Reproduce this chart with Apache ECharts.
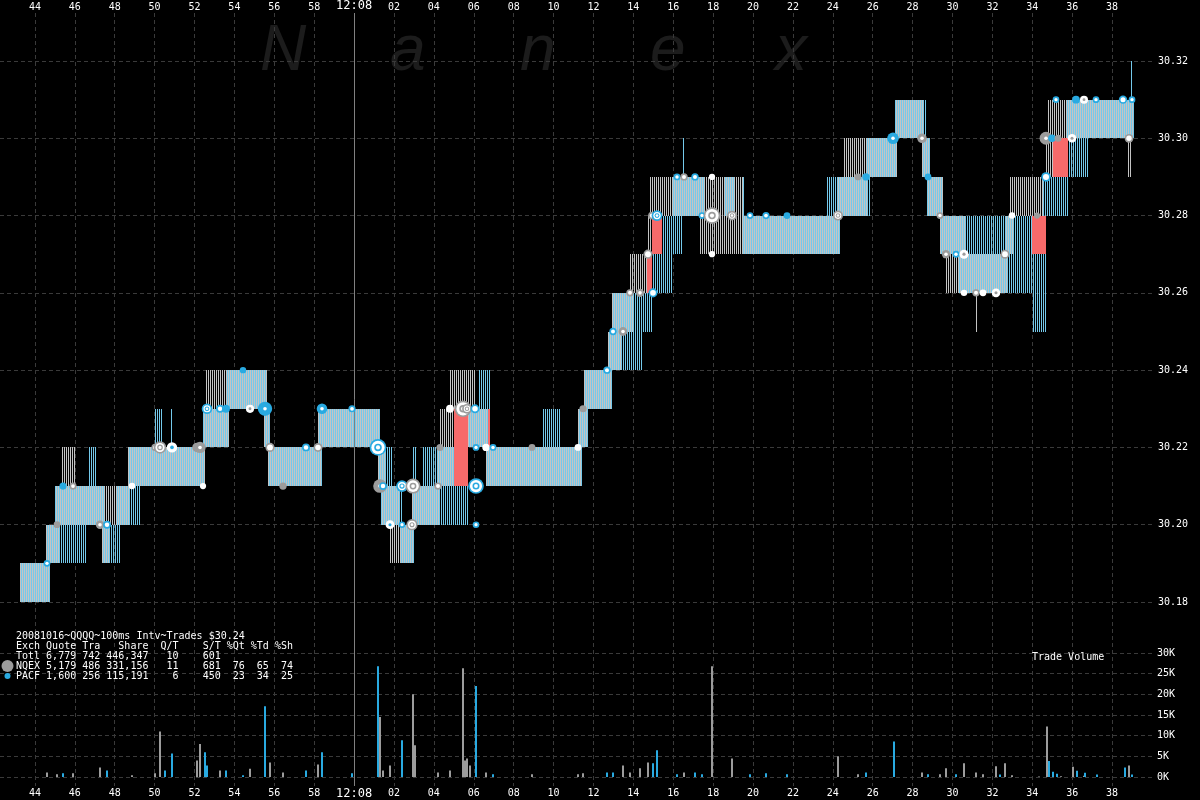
<!DOCTYPE html>
<html><head><meta charset="utf-8">
<script src="https://cdn.jsdelivr.net/npm/echarts@6/dist/echarts.min.js"></script>
<style>html,body{margin:0;background:#000}#c{width:1200px;height:800px}</style>
</head><body><div id="c"></div><script>
// ---- axes: time in seconds after 12:07:00 (axis works in 0.1 s units) ----
const timeMin = 42.4, timeMax = 99.8, timeDataMax = 100.1, labelStep = 2, minuteMark = 60;
const priceMin = 30.17, priceMax = 30.33, priceLabelMin = 30.18, priceLabelMax = 30.32;
const volMin = 0, volMax = 30000, volStep = 5000;

// ---- quotes per exchange: [t0, t1, low, high] ----
const quotesNQEX = [
 [43.40,44.90,30.18,30.19],[44.70,45.40,30.19,30.20],[45.15,47.60,30.20,30.21],[45.50,46.15,30.21,30.22],
 [47.60,48.90,30.20,30.21],[47.50,47.90,30.19,30.20],[48.80,52.65,30.21,30.22],[52.55,53.85,30.22,30.23],
 [52.65,55.75,30.23,30.24],[55.60,55.90,30.22,30.23],[55.80,58.50,30.21,30.22],[58.30,61.40,30.22,30.23],
 [61.30,61.65,30.21,30.22],[61.45,62.40,30.20,30.21],[61.90,63.10,30.19,30.20],[63.00,64.40,30.20,30.21],
 [64.25,65.10,30.21,30.22],[64.40,65.05,30.22,30.23],[64.90,66.15,30.23,30.24],[65.70,66.80,30.22,30.23],
 [66.70,71.50,30.21,30.22],[71.30,71.80,30.22,30.23],[71.60,73.00,30.23,30.24],[72.80,73.50,30.24,30.25],
 [73.00,74.05,30.25,30.26],[73.90,74.75,30.26,30.27],[74.80,75.00,30.27,30.28],[74.90,79.55,30.28,30.29],
 [77.40,84.40,30.27,30.28],[84.25,85.75,30.28,30.29],[84.60,87.25,30.29,30.30],[87.15,88.60,30.30,30.31],
 [88.50,88.90,30.29,30.30],[88.75,89.55,30.28,30.29],[89.40,90.70,30.27,30.28],[92.65,93.05,30.27,30.28],
 [89.70,92.80,30.26,30.27],[91.20,91.25,30.25,30.26],[92.90,94.55,30.28,30.29],[94.70,95.05,30.29,30.30],
 [94.80,99.10,30.30,30.31],[98.80,99.00,30.29,30.30]
];
const quotesPACF = [
 [43.40,44.90,30.18,30.19],[44.70,46.70,30.19,30.20],[45.15,47.60,30.20,30.21],[46.85,47.20,30.21,30.22],
 [48.25,49.40,30.20,30.21],[47.50,48.40,30.19,30.20],[48.80,52.65,30.21,30.22],[50.15,50.50,30.22,30.23],
 [50.95,51.00,30.22,30.23],[52.55,53.85,30.22,30.23],[53.75,55.75,30.23,30.24],[55.60,55.90,30.22,30.23],
 [55.80,58.50,30.21,30.22],[58.30,61.40,30.22,30.23],[61.30,62.00,30.21,30.22],[61.45,62.55,30.20,30.21],
 [62.40,63.10,30.19,30.20],[63.00,64.40,30.20,30.21],[63.00,63.25,30.21,30.22],[63.55,65.10,30.21,30.22],
 [64.40,65.80,30.20,30.21],[66.35,66.90,30.23,30.24],[65.70,66.80,30.22,30.23],[66.75,71.50,30.21,30.22],
 [69.55,70.40,30.22,30.23],[71.30,71.80,30.22,30.23],[71.60,73.00,30.23,30.24],[72.80,74.50,30.24,30.25],
 [73.00,75.00,30.25,30.26],[75.00,76.00,30.26,30.27],[75.50,76.50,30.27,30.28],[76.05,77.65,30.28,30.29],
 [78.65,79.15,30.28,30.29],[79.50,79.65,30.28,30.29],[76.50,76.55,30.29,30.30],[79.50,84.40,30.27,30.28],
 [83.75,85.90,30.28,30.29],[85.70,87.25,30.29,30.30],[87.15,88.70,30.30,30.31],[88.50,88.90,30.29,30.30],
 [88.75,89.55,30.28,30.29],[89.40,94.00,30.27,30.28],[90.30,94.70,30.26,30.27],[94.05,94.70,30.25,30.26],
 [94.55,95.80,30.28,30.29],[95.80,96.80,30.29,30.30],[95.70,99.10,30.30,30.31],[98.95,99.05,30.31,30.32]
];
// locked / crossed market intervals: [t0, t1, low, high]
const crossed = [
 [65.10,65.80,30.21,30.23],[66.80,66.90,30.22,30.23],[74.75,75.00,30.26,30.27],
 [75.00,75.50,30.27,30.28],[94.00,94.70,30.27,30.28],[95.05,95.80,30.29,30.30]
];
// trades: [t, price, exch(0=NQEX,1=PACF), shares, kind(0 ring,1 solid,2 white)]
const trades = [
 [44.75,30.19,1,600,0],[45.25,30.20,0,650,1],[45.55,30.21,1,900,1],[46.05,30.21,0,900,0],
 [47.40,30.20,0,2300,1],[47.75,30.20,1,1600,0],[49.00,30.21,0,400,2],[50.15,30.22,0,900,0],
 [50.40,30.22,0,11000,0],[51.00,30.22,1,5700,2],[52.25,30.22,0,4000,1],[52.40,30.22,0,8000,1],
 [52.55,30.21,0,300,2],[52.75,30.23,1,6000,0],[53.40,30.23,1,1600,0],[53.70,30.23,1,1600,1],
 [54.55,30.24,1,400,1],[54.90,30.23,0,2000,2],[55.65,30.23,1,17000,1],[55.90,30.22,0,3500,0],
 [56.55,30.21,0,1100,1],[57.70,30.22,1,1600,0],[58.30,30.22,0,3000,0],[58.50,30.23,1,6000,1],
 [60.00,30.23,1,900,0],[61.30,30.22,1,26800,0],[61.40,30.21,0,14500,1],[61.55,30.21,1,1600,0],
 [61.90,30.20,1,2800,2],[62.50,30.21,1,8900,0],[62.50,30.20,1,500,0],[63.05,30.21,0,20000,0],
 [63.00,30.20,0,7700,0],[64.30,30.21,0,1100,0],[64.40,30.22,0,800,1],[64.90,30.23,0,1600,2],
 [65.55,30.23,0,26300,0],[65.75,30.23,0,4500,0],[66.15,30.23,1,3000,0],[66.20,30.22,1,600,0],
 [66.20,30.21,1,22000,0],[66.20,30.20,1,500,0],[66.70,30.22,0,1100,2],[67.05,30.22,1,650,0],
 [69.00,30.22,0,650,1],[71.30,30.22,0,650,2],[71.55,30.23,0,900,1],[72.75,30.24,1,1100,0],
 [73.05,30.25,1,1100,0],[73.55,30.25,0,2800,1],[73.90,30.26,0,1100,0],[74.40,30.26,0,2100,1],
 [75.05,30.26,1,3300,0],[74.80,30.27,0,3500,0],[75.00,30.28,0,1500,0],[75.25,30.28,1,6500,0],
 [76.25,30.29,1,650,0],[76.60,30.29,0,1100,0],[77.15,30.29,1,1100,0],[77.50,30.28,1,650,0],
 [78.00,30.29,0,300,2],[78.00,30.28,0,26800,0],[78.00,30.27,0,300,2],[79.00,30.28,0,4500,0],
 [79.90,30.28,1,650,0],[80.70,30.28,1,900,0],[81.75,30.28,1,650,1],[84.30,30.28,0,5000,0],
 [85.30,30.29,0,650,1],[85.70,30.29,1,1100,1],[87.05,30.30,1,8600,1],[88.50,30.30,0,4000,1],
 [88.80,30.29,1,650,1],[89.40,30.28,0,650,0],[89.70,30.27,0,2100,1],[90.20,30.27,1,650,0],
 [90.60,30.27,0,3300,2],[90.60,30.26,0,400,2],[91.20,30.26,0,1100,0],[91.55,30.26,0,650,2],
 [92.20,30.26,0,2600,2],[92.65,30.27,0,3300,0],[93.00,30.28,0,400,2],[94.25,30.28,0,300,1],
 [94.70,30.29,1,3900,0],[94.70,30.30,0,12200,1],[95.00,30.30,1,1300,1],[95.30,30.30,0,800,1],
 [96.00,30.30,0,2500,2],[95.20,30.31,1,500,0],[96.20,30.31,1,1500,1],[96.60,30.31,0,1800,2],
 [97.20,30.31,1,600,0],[98.55,30.31,1,2300,0],[99.00,30.31,1,600,0],[98.85,30.30,0,2800,0]
];
// trade volume per 100ms interval: [t, shares]
const volNQEX = [
 [44.75,1100],[45.25,650],[46.05,900],[47.40,2300],[49.00,400],[50.15,900],[50.40,11000],[52.25,4000],
 [52.40,8000],[53.40,1600],[54.90,2000],[55.90,3500],[56.55,1100],[58.30,3000],[61.40,14500],[61.55,1600],
 [61.90,2800],[63.05,20000],[63.15,7700],[64.30,1100],[64.90,1600],[65.55,26300],[65.65,4000],[65.75,4500],
 [65.90,2800],[66.70,1100],[69.00,650],[71.30,650],[71.55,900],[73.55,2800],[73.90,1100],[74.40,2100],
 [74.80,3500],[76.60,1100],[78.00,26800],[79.00,4500],[84.30,5000],[85.30,650],[88.50,1100],[89.40,650],
 [89.70,2100],[90.60,3300],[91.20,1100],[91.55,650],[92.20,2600],[92.65,3300],[93.00,400],[94.35,100],
 [94.75,12200],[95.45,200],[96.05,2500],[96.60,300],[98.85,2800]
];
const volPACF = [
 [45.55,900],[47.75,1600],[50.65,1600],[51.00,5700],[52.65,6000],[52.75,2800],[53.70,1600],[54.55,400],
 [55.65,17100],[57.70,1600],[58.50,6000],[60.00,900],[61.30,26800],[62.50,8900],[66.20,22000],[67.05,650],
 [72.75,1100],[73.05,1100],[75.05,3300],[75.25,6500],[76.25,650],[77.15,1100],[77.50,650],[79.90,650],
 [80.70,900],[81.75,650],[85.70,1100],[87.10,8600],[88.80,650],[90.20,650],[92.40,600],[94.85,3900],
 [95.05,1300],[95.25,800],[96.25,1500],[96.65,1000],[97.25,600],[98.65,2300],[99.00,600]
];
// ---- text content ----
const titleLine = '20081016~QQQQ~100ms Intv~Trades $30.24';
const statsHeader = ['Exch','Quote','Tra','Share','Q/T','S/T','%Qt','%Td','%Sh'];
const statsRows = [
 ['Totl','6,779','742','446,347','10','601','','',''],
 ['NQEX','5,179','486','331,156','11','681','76','65','74'],
 ['PACF','1,600','256','115,191','6','450','23','34','25']
];
const watermark = 'Nanex';
const volumeTitle = 'Trade Volume';

// ---- styling ----
const GRAY = '#9c9c9c', CYAN = '#29aae1';
const Q_GRAY = '#c4c4c4', Q_CYAN = '#74c9eb', RED = '#f76a6a';
const GRID = '#3a3a3a', CLEAR = 'rgba(0,0,0,0)';
const MONO = '"DejaVu Sans Mono", "Liberation Mono", monospace';

const ds = t => t * 10; // seconds -> axis units (0.1 s)
const qN = quotesNQEX.map(r => [ds(r[0]), ds(r[1]), r[2], r[3]]);
const qP = quotesPACF.map(r => [ds(r[0]), ds(r[1]), r[2], r[3]]);
const qX = crossed.map(r => [ds(r[0]), ds(r[1]), r[2], r[3]]);
const tr = trades.map(r => [ds(r[0]), r[1], r[2], r[3], r[4]]);
const vN = volNQEX.map(r => [ds(r[0]), r[1]]);
const vP = volPACF.map(r => [ds(r[0]), r[1]]);

// parity: 0 -> even pixel columns, 1 -> odd columns, -1 -> solid
function rectSeries(data, color, parity, z) {
  return {
    type: 'custom', xAxisIndex: 0, yAxisIndex: 0, data, clip: true, silent: true, z,
    animation: false, encode: { x: [0, 1], y: [2, 3] },
    renderItem(params, api) {
      const a = api.coord([api.value(0), api.value(3)]);
      const b = api.coord([api.value(1), api.value(2)]);
      const x0 = Math.round(a[0]), x1 = Math.max(Math.round(b[0]), x0 + 2);
      const y0 = Math.round(a[1]), y1 = Math.round(b[1]);
      if (parity < 0) return { type: 'rect', shape: { x: x0, y: y0, width: x1 - x0, height: y1 - y0 }, style: { fill: color } };
      const ch = [];
      for (let x = x0; x < x1; x++) {
        if ((x % 2 + 2) % 2 === parity) ch.push({ type: 'rect', shape: { x, y: y0, width: 1, height: y1 - y0 }, style: { fill: color } });
      }
      return { type: 'group', children: ch };
    }
  };
}
function volSeries(data, color) {
  return {
    type: 'custom', xAxisIndex: 1, yAxisIndex: 1, data, silent: true, animation: false,
    encode: { x: 0, y: 1 },
    renderItem(params, api) {
      const a = api.coord([api.value(0), api.value(1)]);
      const b = api.coord([api.value(0), 0]);
      const x = Math.round(a[0]) - 1;
      return { type: 'rect', shape: { x, y: a[1], width: 2, height: b[1] - a[1] }, style: { fill: color } };
    }
  };
}
const tradeSeries = {
  type: 'custom', xAxisIndex: 0, yAxisIndex: 0, data: tr, silent: true, animation: false, z: 5,
  encode: { x: 0, y: 1 },
  renderItem(params, api) {
    const p = api.coord([api.value(0), api.value(1)]);
    const col = api.value(2) === 0 ? GRAY : CYAN;
    const r = Math.max(3, 2.5 + Math.sqrt(api.value(3)) / 28);
    const kind = api.value(4);
    const ch = [];
    const circ = (rr, fill) => ch.push({ type: 'circle', shape: { cx: p[0], cy: p[1], r: rr }, style: { fill } });
    if (kind === 0) {
      circ(r, col); circ(Math.max(r - 1.7, 1.4), '#fff');
      if (r > 4.8) { circ(r * 0.45, col); circ(r * 0.25, '#fff'); }
    } else if (kind === 1) {
      circ(r, col); if (r > 4) circ(1.8, '#fff');
    } else {
      circ(r, '#fff'); if (r > 4) circ(r * 0.35, col);
    }
    return { type: 'group', children: ch };
  }
};

// frame axis: ticks every 0.2 s from timeMin; lines / labels only every 2 s
const tMin = Math.round(ds(timeMin)), tMax = Math.round(ds(timeMax)), tStep = 2;
const frameColors = Array.from({ length: 10 }, (_, k) => ((tMin + tStep * k) % (labelStep * 10) === 0) ? GRID : CLEAR);
const timeFmt = v => {
  const u = Math.round(v);
  if (u % (labelStep * 10) !== 0) return '';
  const sec = u / 10;
  return sec === minuteMark ? '{b|12:08}' : String(sec % 60).padStart(2, '0');
};
const axisLbl = { color: '#fff', fontFamily: MONO, fontSize: 10, formatter: timeFmt,
  rich: { b: { fontFamily: MONO, fontSize: 12, color: '#fff' } } };

const priceFmt = v => {
  const c = Math.round(v * 100);
  return (c % 2 === 0 && c >= Math.round(priceLabelMin * 100) && c <= Math.round(priceLabelMax * 100)) ? (c / 100).toFixed(2) : '';
};

function pad(vals, widths) { return vals.map((v, i) => i === 0 ? v.padEnd(widths[0]) : v.padStart(widths[i])).join(''); }
const colW = [4, 6, 4, 8, 5, 7, 4, 4, 4];
const legendText = [titleLine, pad(statsHeader, colW)].concat(statsRows.map(r => pad(r, colW).trimEnd())).join('\n');

const wmX = [260, 390, 520, 650, 775];
const graphics = watermark.split('').map((ch, i) => ({
  type: 'text', left: wmX[i], top: 20, z: -1, silent: true,
  style: { text: ch, fill: '#1c1c1c', font: 'italic 64px "Liberation Sans", Arial, sans-serif' }
}));
graphics.push({ type: 'text', left: 16, top: 631, z: 10, silent: true,
  style: { text: legendText, fill: '#fff', font: '10px ' + MONO, lineHeight: 10 } });
graphics.push({ type: 'circle', shape: { cx: 7.5, cy: 666, r: 6 }, style: { fill: GRAY }, z: 10, silent: true });
graphics.push({ type: 'circle', shape: { cx: 7.5, cy: 676, r: 3 }, style: { fill: CYAN }, z: 10, silent: true });
graphics.push({ type: 'text', left: 1032, top: 652, z: 10, silent: true,
  style: { text: volumeTitle, fill: '#fff', font: '10px ' + MONO } });

const gridRight = 46, frameRight = 52;
const chart = echarts.init(document.getElementById('c'), null, { renderer: 'canvas' });
chart.setOption({
  backgroundColor: '#000',
  animation: false,
  grid: [
    { left: 0, right: gridRight, top: 22.36, bottom: 159.36 },
    { left: 0, right: gridRight, top: 653, bottom: 23 },
    { left: 0, right: frameRight, top: 13, bottom: 13 }
  ],
  xAxis: [
    { gridIndex: 0, type: 'value', min: tMin, max: ds(timeDataMax), show: false },
    { gridIndex: 1, type: 'value', min: tMin, max: ds(timeDataMax), show: false },
    { gridIndex: 2, type: 'value', min: tMin, max: tMax, interval: tStep, position: 'top',
      axisLine: { show: false }, axisTick: { show: false },
      axisLabel: Object.assign({ margin: 1 }, axisLbl),
      splitLine: { show: true, lineStyle: { color: frameColors, type: [4, 3], width: 1 } } },
    { gridIndex: 2, type: 'value', min: tMin, max: tMax, interval: tStep, position: 'bottom',
      axisLine: { show: false }, axisTick: { show: false },
      axisLabel: Object.assign({ margin: 2 }, axisLbl), splitLine: { show: false } }
  ],
  yAxis: [
    { gridIndex: 0, type: 'value', min: priceMin, max: priceMax, interval: 0.01, position: 'right',
      axisLine: { show: false }, axisTick: { show: false },
      axisLabel: { margin: 4, color: '#fff', fontFamily: MONO, fontSize: 10, formatter: priceFmt },
      splitLine: { show: true, lineStyle: { color: [CLEAR, GRID], type: [4, 3] } } },
    { gridIndex: 1, type: 'value', min: volMin, max: volMax, interval: volStep, position: 'right',
      axisLine: { show: false }, axisTick: { show: false },
      axisLabel: { margin: 3, color: '#fff', fontFamily: MONO, fontSize: 10, formatter: v => (v / 1000) + 'K' },
      splitLine: { show: true, lineStyle: { color: GRID, type: [4, 3] } } },
    { gridIndex: 2, type: 'value', min: 0, max: 1, show: false }
  ],
  graphic: graphics,
  series: [
    { type: 'line', xAxisIndex: 2, yAxisIndex: 2, data: [], silent: true,
      markLine: { silent: true, symbol: 'none', label: { show: false }, animation: false,
        lineStyle: { color: '#808080', type: 'solid', width: 1 }, data: [{ xAxis: ds(minuteMark) }] } },
    rectSeries(qN, Q_GRAY, 0, 2),
    rectSeries(qP, Q_CYAN, 1, 2),
    rectSeries(qX, RED, -1, 3),
    tradeSeries,
    volSeries(vN, GRAY),
    volSeries(vP, CYAN)
  ]
});
</script></body></html>
